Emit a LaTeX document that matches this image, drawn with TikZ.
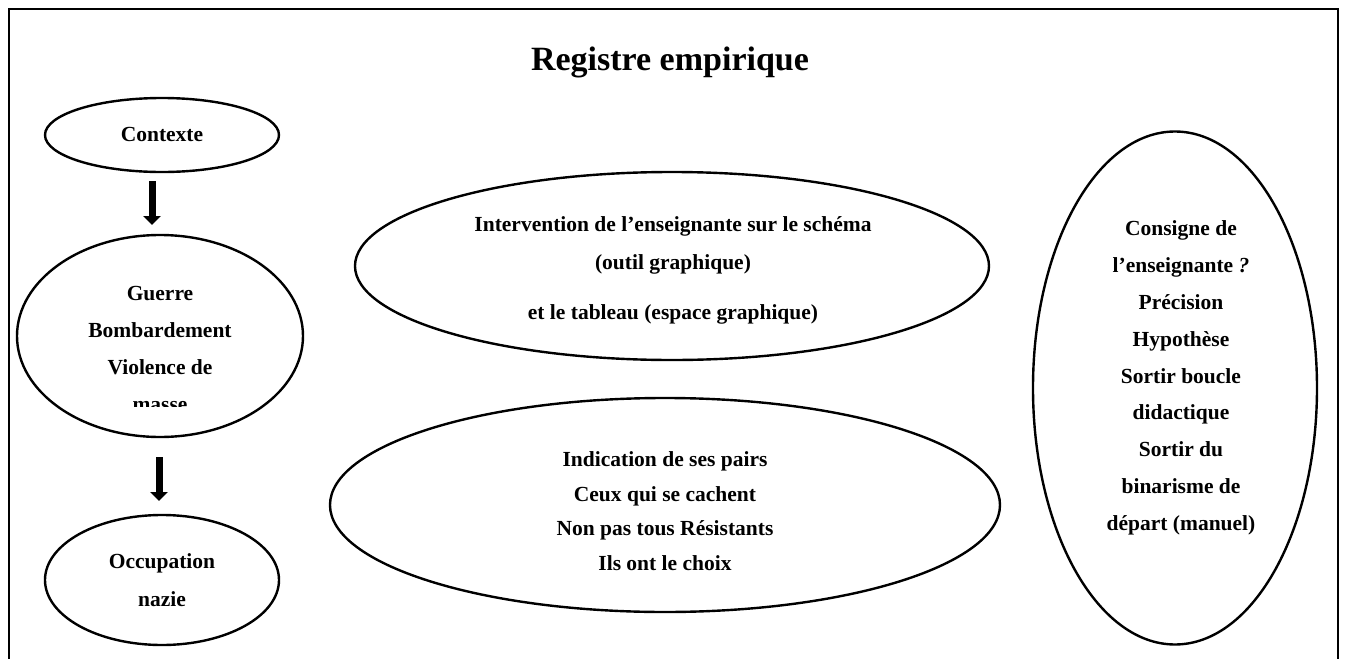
\documentclass[tikz,border=0pt]{standalone}
\usepackage{fontspec}
\setmainfont{Liberation Serif}
\usepackage{tikz}
\usetikzlibrary{shapes.geometric,arrows.meta}
\newcommand{\bodyfont}[1]{\fontsize{10.75pt}{#1}\selectfont\bfseries}

\begin{document}
\begin{tikzpicture}[x=0.5pt, y=-0.5pt,
  ell/.style={draw, ellipse, line width=1.2pt, inner sep=0pt, outer sep=0pt},
  txt/.style={align=center, inner sep=0pt},
  arr/.style={-{Triangle[width=8.5pt,length=4.5pt]}, line width=3.5pt}]
\useasboundingbox (0,0) rectangle (1346,659);
\draw[line width=1.3pt] (9,659) |- (1338,9) -- (1338,659);
\node[txt, font=\fontsize{17pt}{20pt}\selectfont\bfseries] (title) at (670,62) {Registre empirique};
% left column
\node[ell, minimum width=117pt, minimum height=37pt] (ctx) at (162,135) {};
\node[ell, minimum width=143pt, minimum height=101pt] (war) at (160,336) {};
\node[ell, minimum width=117pt, minimum height=65pt] (occ) at (162,580) {};
\node[txt, font=\bodyfont{18pt}] (ctxt) at (162,134) {Contexte};
\begin{scope}
\clip (0,0) rectangle (1346,406);
\node[txt, font=\bodyfont{18.5pt}] (wart) at (160,349) {Guerre\\ Bombardement\\ Violence de\\ masse};
\end{scope}
\node[txt, font=\bodyfont{19pt}] (occt) at (162,580) {Occupation\\ nazie};
\draw[arr, shorten <=4.5pt, shorten >=5pt] ([xshift=-5pt]ctx.south) -- ([xshift=-5pt]ctx.south |- war.north);
\draw[arr, shorten <=10pt, shorten >=7pt] ([xshift=-0.5pt]war.south) -- ([xshift=-0.5pt]war.south |- occ.north);
% middle
\node[ell, minimum width=317pt, minimum height=94pt] (interv) at (672,266) {};
\node[ell, minimum width=335pt, minimum height=107pt] (pairs) at (665,505) {};
\node[txt, font=\bodyfont{19pt}] (intervt) at (673,270) {Intervention de l’enseignante sur le schéma\\ (outil graphique)\\[6pt] et le tableau (espace graphique)};
\node[txt, font=\bodyfont{17.25pt}] (pairst) at (665,511) {Indication de ses pairs\\ Ceux qui se cachent\\ Non pas tous Résistants\\ Ils ont le choix};
% right
\node[ell, minimum width=142pt, minimum height=256.5pt] (cons) at (1175,388) {};
\node[txt, font=\bodyfont{18.4pt}] (const) at (1181,378) {Consigne de\\ l’enseignante \textit{?}\\ Précision\\ Hypothèse\\ Sortir boucle\\ didactique\\ Sortir du\\ binarisme de\\ départ (manuel)};
\end{tikzpicture}
\end{document}
